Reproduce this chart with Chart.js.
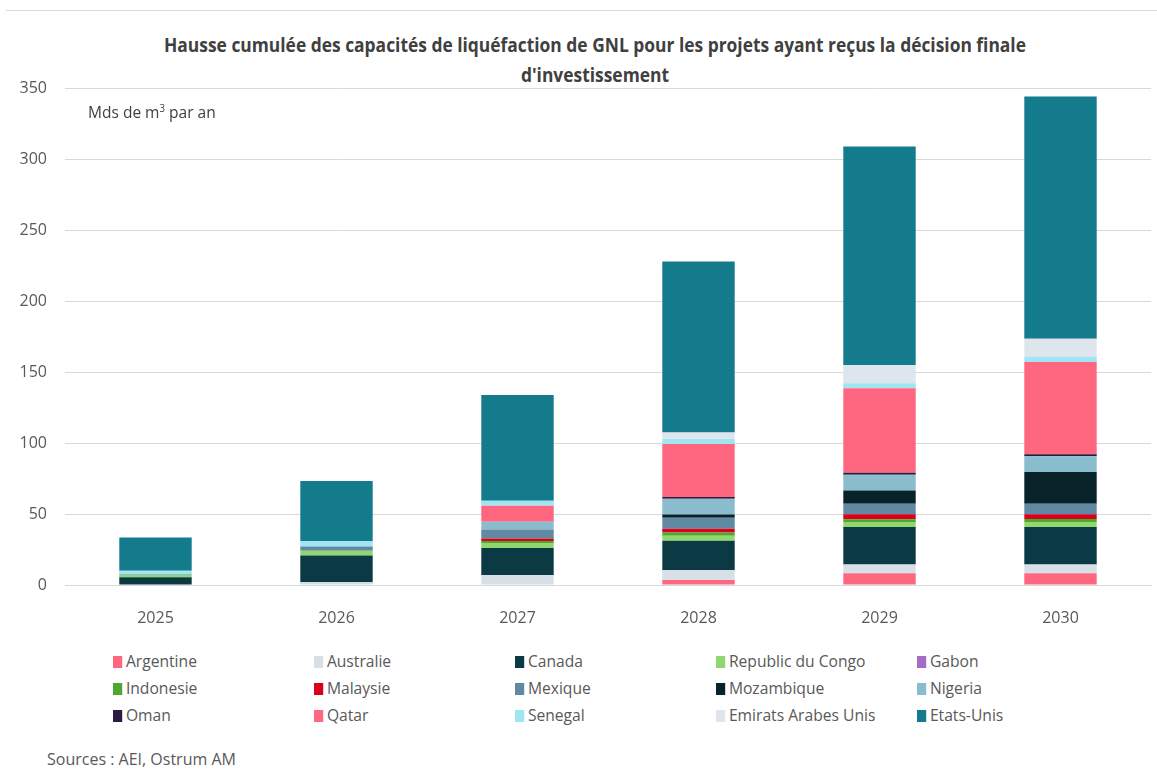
<!DOCTYPE html>
<html>
<head>
<meta charset="utf-8">
<script src="https://cdn.jsdelivr.net/npm/chart.js@4/dist/chart.umd.min.js"></script>
<style>
  body { margin: 0; background: #fff; font-family: 'Open Sans', sans-serif; color: #595959; }
  #page { position: relative; width: 1157px; height: 771px; overflow: hidden; }
  #frame { position: absolute; left: 6px; top: 10px; width: 1160px; height: 1px; background: #d9d9d9; }
  #title { position: absolute; left: 0; width: 1190px; top: 30px; text-align: center; font-weight: bold; font-size: 20px; line-height: 30px; color: #404040; transform: scaleX(0.87); transform-origin: 595px 0; }
  #unit { position: absolute; left: 88px; top: 101px; font-size: 16px; color: #404040; transform: scaleX(0.97); transform-origin: 0 0; }
  #wrap { position: absolute; left: 0; top: 0; width: 1157px; height: 645px; }
  #legend { position: absolute; left: 113px; top: 650px; width: 1040px; }
  .item { position: absolute; font-size: 17px; color: #595959; white-space: nowrap; line-height: 22px; transform: scaleX(0.92); transform-origin: 0 0; }
  .item span { display: inline-block; width: 10px; height: 12px; margin-right: 4px; vertical-align: -1px; }
  #source { position: absolute; left: 47px; top: 748px; font-size: 16px; color: #595959; }
</style>
</head>
<body>
<div id="page">
  <div id="frame"></div>
  <div id="title">Hausse cumulée des capacités de liquéfaction de GNL pour les projets ayant reçus la décision finale<br>d'investissement</div>
  <div id="wrap"><canvas id="graph"></canvas></div>
  <div id="unit">Mds de m<sup style="font-size:10px">3</sup> par an</div>
  <div id="legend"></div>
  <div id="source">Sources : AEI, Ostrum AM</div>
</div>
<script>
// years on the x axis
var years = ["2025", "2026", "2027", "2028", "2029", "2030"];
var yTicks = [0, 50, 100, 150, 200, 250, 300, 350];

// Mds de m3 par an (bottom to top)
var argentine  = [0, 0, 0, 3.5, 8.2, 8.2];
var australie  = [0, 2, 7, 7, 6.3, 6.3];
var canada     = [5.4, 18.8, 19, 20.6, 26.4, 26.4];
var congo      = [1.6, 3.3, 3.5, 3.5, 3.5, 3.5];
var gabon      = [0, 0, 0, 0, 0, 0];
var indonesie  = [0, 0, 1.4, 2.3, 1.9, 2.1];
var malaisie   = [0, 0, 1.9, 2.8, 3.5, 3.3];
var mexique    = [0, 3, 6.3, 7.7, 7.5, 7.5];
var mozambique = [0, 0, 0, 2.3, 9.3, 22.2];
var nigeria    = [0.9, 0, 5.4, 11, 11, 11.2];
var oman       = [0, 0, 0, 1.2, 1.4, 1.4];
var qatar      = [0, 0, 11.3, 37.4, 59.6, 65];
var senegal    = [2.1, 3.8, 3.5, 3.7, 3.5, 3.5];
var emirats    = [0, 0, 0, 4.4, 12.9, 12.9];
var etatsUnis  = [23.5, 42.3, 74.5, 120.4, 153.8, 170.6];

var series = [
  ["Argentine", argentine, "#ff6680"],
  ["Australie", australie, "#d6e0e6"],
  ["Canada", canada, "#0b3a45"],
  ["Republic du Congo", congo, "#8fd870"],
  ["Gabon", gabon, "#a66bc6"],
  ["Indonesie", indonesie, "#4ea72e"],
  ["Malaysie", malaisie, "#d9001b"],
  ["Mexique", mexique, "#6289a3"],
  ["Mozambique", mozambique, "#08232a"],
  ["Nigeria", nigeria, "#89bccd"],
  ["Oman", oman, "#2d1b3d"],
  ["Qatar", qatar, "#ff6680"],
  ["Senegal", senegal, "#a0e6f2"],
  ["Emirats Arabes Unis", emirats, "#dfe5ec"],
  ["Etats-Unis", etatsUnis, "#147b8d"]
];

var FONT = "'Open Sans', sans-serif";

var datasets = series.map(function (s) {
  return {
    label: s[0],
    data: s[1],
    backgroundColor: s[2],
    borderWidth: 0,
    barPercentage: 0.4,
    categoryPercentage: 1
  };
});

new Chart(document.getElementById('graph'), {
  type: 'bar',
  data: { labels: years, datasets: datasets },
  options: {
    responsive: true,
    maintainAspectRatio: false,
    animation: false,
    layout: { padding: { left: 5, right: 6, top: 88, bottom: 0 } },
    plugins: {
      legend: { display: false },
      tooltip: { enabled: false }
    },
    scales: {
      x: {
        stacked: true,
        grid: { display: false },
        border: { color: '#d9d9d9' },
        ticks: { color: '#595959', font: { family: FONT, size: 16 }, padding: 16 },
        afterFit: function (s) { s.height = 60; }
      },
      y: {
        stacked: true,
        min: 0,
        max: 350,
        afterBuildTicks: function (s) { s.ticks = yTicks.map(function (v) { return { value: v }; }); },
        grid: { color: '#d9d9d9', drawTicks: false },
        border: { display: false },
        ticks: { color: '#595959', font: { family: FONT, size: 16 }, padding: 18 },
        afterFit: function (s) { s.width = 60; }
      }
    }
  }
});

// legend laid out as a 5 column grid, like the original
var legend = document.getElementById('legend');
series.forEach(function (s, i) {
  var d = document.createElement('div');
  d.className = 'item';
  d.style.left = (i % 5) * 201 + 'px';
  d.style.top = Math.floor(i / 5) * 27 + 'px';
  d.innerHTML = '<span style="background:' + s[2] + '"></span>' + s[0];
  legend.appendChild(d);
});
</script>
</body>
</html>
